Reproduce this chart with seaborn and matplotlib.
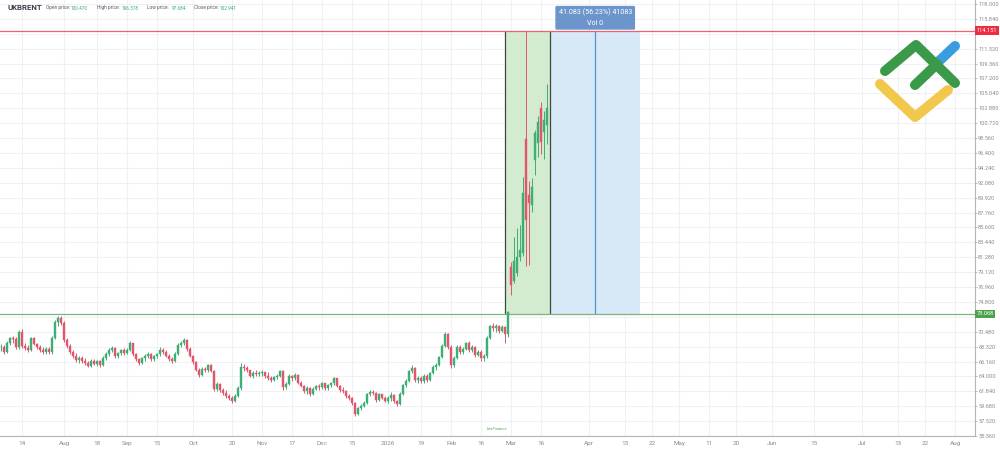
import numpy as np
import pandas as pd
import matplotlib
matplotlib.use("Agg")
import matplotlib.pyplot as plt
import matplotlib.transforms as mtransforms
from matplotlib.lines import Line2D
from matplotlib.patches import Rectangle
import seaborn as sns

# ---------------- data ----------------
symbol = "UKBRENT"
header_labels = ["Open price:", "High price:", "Low price:", "Close price:"]
header_values = ["100.470", "106.378", "97.684", "102.941"]

opens = [68.2, 68.3, 67.6, 68.9, 69.5, 69.4, 68.2, 70.4, 68.4, 68.1, 67.9, 69.5, 68.7, 68.3, 67.8, 67.6, 68.0, 67.5, 69.6, 71.9, 72.4,
         71.8, 69.3, 68.4, 67.6, 66.9, 66.4, 66.6, 66.2, 65.9, 65.5, 66.3, 65.8, 66.2, 65.6, 66.7, 67.3, 67.9, 68.1, 66.9, 67.4, 67.8,
         67.4, 67.9, 68.8, 67.2, 66.5, 66.0, 66.6, 66.9, 67.3, 66.5, 66.9, 67.2, 67.9, 67.6, 67.0, 66.5, 66.3, 67.3, 68.6, 68.8, 69.3, 68.0,
         67.0, 66.1, 65.0, 64.2, 65.1, 64.9, 65.6, 64.8, 62.2, 62.9, 62.0, 61.6, 61.1, 60.9, 60.5, 61.2, 62.3, 65.3, 65.2, 64.9, 64.1, 64.5, 64.3,
         64.5, 64.6, 64.0, 63.7, 63.5, 63.9, 64.1, 64.8, 62.4, 62.9, 64.0, 63.7, 64.2, 63.1, 62.6, 61.9, 62.3, 61.5, 62.2, 62.6,
         62.4, 63.0, 62.3, 62.7, 63.0, 63.7, 62.6, 62.0, 61.9, 61.1, 60.8, 60.1, 58.6, 59.4, 59.7, 60.2, 61.4, 61.8, 61.6, 60.6, 61.4, 60.9,
         60.5, 60.8, 61.3, 60.4, 60.0, 61.5, 62.7, 63.4, 64.8, 65.2, 63.5, 63.8, 63.3, 64.1, 63.5, 64.5, 65.4, 65.7, 66.8, 68.4, 70.1,
         68.3, 65.6, 66.7, 68.3, 67.5, 68.0, 68.8, 67.9, 68.3, 67.1, 67.6, 66.6, 66.9, 69.6, 71.3, 71.0, 71.3, 70.6, 71.1, 70.2,
         79.9, 77.9, 79.0, 81.3, 81.9, 98.4, 90.3, 88.8, 95.4, 97.8, 102.9, 99.4, 100.47]
highs = [68.7, 68.5, 69.2, 69.7, 69.8, 69.7, 70.8, 70.9, 68.8, 68.5, 69.7, 69.7, 68.9, 68.5, 68.2, 68.3, 68.2, 69.8, 72.2, 72.8, 72.7,
         72.0, 69.6, 68.7, 67.9, 67.4, 66.9, 66.9, 66.6, 66.2, 66.5, 66.5, 66.4, 66.4, 66.9, 67.5, 68.1, 68.4, 68.2, 67.6, 68.0, 68.1,
         68.1, 69.1, 68.9, 67.4, 66.7, 66.8, 67.2, 67.6, 67.4, 67.1, 67.4, 68.2, 68.1, 67.8, 67.2, 66.8, 67.5, 68.9, 69.1, 69.6, 69.4, 68.2,
         67.1, 66.3, 65.2, 65.3, 65.4, 65.8, 65.8, 65.0, 63.2, 63.1, 62.3, 62.0, 61.5, 61.2, 61.4, 62.6, 65.9, 65.8, 65.5, 65.0, 64.8, 64.9, 64.8,
         64.9, 64.7, 64.6, 64.0, 64.1, 64.3, 65.0, 64.9, 63.2, 64.3, 64.2, 64.5, 64.3, 63.3, 62.8, 62.6, 62.4, 62.4, 62.8, 62.9,
         63.2, 63.1, 62.9, 63.2, 63.9, 63.8, 62.8, 62.4, 62.0, 61.4, 61.0, 60.3, 59.6, 60.0, 60.4, 61.6, 62.0, 62.1, 61.7, 61.6, 61.5, 61.2,
         61.1, 61.7, 61.4, 60.6, 61.7, 62.9, 63.6, 65.0, 65.6, 65.3, 64.1, 64.0, 64.4, 64.3, 64.7, 65.6, 66.0, 67.0, 68.7, 70.5, 70.3,
         68.5, 67.0, 68.6, 68.5, 68.3, 69.0, 69.1, 68.6, 68.4, 67.8, 67.8, 67.2, 69.9, 71.5, 71.8, 71.6, 71.5, 71.4, 71.3, 73.5,
         80.6, 84.2, 85.5, 85.9, 92.9, 114.151, 92.3, 92.8, 99.7, 101.8, 103.8, 102.5, 106.378]
lows = [67.7, 67.3, 67.4, 68.5, 68.9, 68.0, 68.0, 68.1, 67.8, 67.5, 67.7, 68.5, 68.0, 67.5, 67.3, 67.2, 67.2, 67.3, 69.4, 71.3, 71.5,
        69.0, 68.1, 67.3, 66.6, 66.1, 65.9, 65.9, 65.6, 65.3, 65.4, 65.6, 65.5, 65.4, 65.5, 66.4, 67.0, 67.5, 66.7, 66.6, 67.1, 67.1,
        67.2, 67.7, 67.0, 66.3, 65.6, 65.8, 66.3, 66.6, 66.3, 66.2, 66.6, 67.0, 67.3, 66.8, 66.2, 66.0, 66.1, 67.1, 68.2, 68.5, 67.7, 66.8,
        65.8, 64.8, 63.9, 64.0, 64.6, 64.7, 64.6, 61.9, 61.9, 61.8, 61.3, 60.8, 60.6, 60.2, 60.3, 61.0, 62.1, 64.8, 64.6, 63.9, 63.8, 64.0, 64.0,
        64.1, 63.8, 63.5, 63.2, 63.3, 63.6, 63.9, 62.1, 62.2, 62.7, 63.4, 63.5, 62.9, 62.4, 61.6, 61.5, 61.1, 61.3, 62.0, 62.1,
        62.2, 62.0, 62.0, 62.4, 62.8, 62.4, 61.8, 61.6, 60.9, 60.6, 59.9, 58.3, 58.4, 59.1, 59.5, 60.0, 61.1, 61.3, 60.3, 60.4, 60.7, 60.3,
        60.2, 60.4, 60.2, 59.7, 59.9, 61.3, 62.5, 63.2, 64.5, 63.2, 63.1, 63.0, 63.1, 63.2, 63.3, 64.3, 64.9, 65.5, 66.6, 68.2, 68.0,
        65.2, 65.4, 66.5, 67.2, 67.2, 67.8, 67.6, 67.5, 66.8, 66.9, 66.3, 66.2, 66.7, 69.4, 70.6, 70.5, 70.3, 70.4, 68.9, 69.7,
        75.8, 77.5, 78.5, 80.8, 81.5, 80.0, 80.2, 87.9, 93.2, 95.8, 96.3, 95.5, 97.684]
closes = [68.3, 67.6, 68.9, 69.5, 69.4, 68.2, 70.4, 68.4, 68.1, 67.9, 69.5, 68.7, 68.3, 67.8, 67.6, 68.0, 67.5, 69.6, 71.9, 72.4, 71.8,
          69.3, 68.4, 67.6, 66.9, 66.4, 66.6, 66.2, 65.9, 65.5, 66.3, 65.8, 66.2, 65.6, 66.7, 67.3, 67.9, 68.1, 66.9, 67.4, 67.8, 67.4,
          67.9, 68.8, 67.2, 66.5, 66.0, 66.6, 66.9, 67.3, 66.5, 66.9, 67.2, 67.9, 67.6, 67.0, 66.5, 66.3, 67.3, 68.6, 68.8, 69.3, 68.0, 67.0,
          66.1, 65.0, 64.2, 65.1, 64.9, 65.6, 64.8, 62.2, 62.9, 62.0, 61.6, 61.1, 60.9, 60.5, 61.2, 62.3, 65.3, 65.2, 64.9, 64.1, 64.5, 64.3, 64.5,
          64.6, 64.0, 63.7, 63.5, 63.9, 64.1, 64.8, 62.4, 62.9, 64.0, 63.7, 64.2, 63.1, 62.6, 61.9, 62.3, 61.5, 62.2, 62.6, 62.4,
          63.0, 62.3, 62.7, 63.0, 63.7, 62.6, 62.0, 61.9, 61.1, 60.8, 60.1, 58.6, 59.4, 59.7, 60.2, 61.4, 61.8, 61.6, 60.6, 61.4, 60.9, 60.5,
          60.8, 61.3, 60.4, 60.0, 61.5, 62.7, 63.4, 64.8, 65.2, 63.5, 63.8, 63.3, 64.1, 63.5, 64.5, 65.4, 65.7, 66.8, 68.4, 70.1, 68.3,
          65.6, 66.7, 68.3, 67.5, 68.0, 68.8, 67.9, 68.3, 67.1, 67.6, 66.6, 66.9, 69.6, 71.3, 71.0, 71.3, 70.6, 71.1, 70.2, 73.3,
          77.3, 80.8, 81.3, 82.3, 90.6, 86.7, 89.1, 91.5, 99.3, 100.9, 98.0, 101.2, 102.941]

first_bar = "2025-07-03"
last_bar = "2026-03-18"
holidays = ["2025-12-25", "2026-01-01"]

tick_dates = ["2025-07-14", "2025-08-01", "2025-08-18", "2025-09-01", "2025-09-15", "2025-10-01",
              "2025-10-20", "2025-11-03", "2025-11-17", "2025-12-01", "2025-12-15", "2026-01-02",
              "2026-01-19", "2026-02-02", "2026-02-16", "2026-03-02", "2026-03-16", "2026-04-01",
              "2026-04-13", "2026-04-22", "2026-05-01", "2026-05-11", "2026-05-20", "2026-06-01",
              "2026-06-15", "2026-07-01", "2026-07-13", "2026-07-22", "2026-08-01"]
tick_labels = ["14", "Aug", "18", "Sep", "15", "Oct", "20", "Nov", "17", "Dec", "15", "2026",
               "19", "Feb", "16", "Mar", "16", "Apr", "13", "22", "May", "11", "20", "Jun",
               "15", "Jul", "13", "22", "Aug"]

ytick_values = [118.0, 115.84, 113.68, 111.52, 109.36, 107.2, 105.04, 102.88, 100.72, 98.56,
                96.4, 94.24, 92.08, 89.92, 87.76, 85.6, 83.44, 81.28, 79.12, 76.96, 74.8,
                72.64, 70.48, 68.32, 66.16, 64.0, 61.84, 59.68, 57.52, 55.36]
hidden_yticks = [113.68, 72.64]

range_high = 114.151
range_low = 73.068
range_start = "2026-02-26"
range_split = "2026-03-19"
range_cursor = "2026-04-03"
range_end = "2026-04-18"
range_text = "41.083 (56.23%) 41083\nVol 0"

# ---------------- helpers ----------------
bars = pd.bdate_range(first_bar, last_bar)
bars = bars[~bars.isin(pd.to_datetime(holidays))]


def xpos(d):
    d = pd.Timestamp(d)
    if d <= bars[-1]:
        return float(bars.get_indexer([d])[0])
    return float(len(bars) - 1 + (d - bars[-1]).days)


# ---------------- figure ----------------
sns.set_theme(style="white")
plt.rcParams["font.family"] = ["Roboto", "DejaVu Sans"]

W, H = 1000, 449
fig = plt.figure(figsize=(W / 100, H / 100), dpi=100)
ax = fig.add_axes([0, 13 / H, 975 / W, 1 - 13 / H])

UP = "#3fae74"
DOWN = "#e2566b"

x = np.arange(len(closes), dtype=float)
o = np.array(opens); c = np.array(closes); h = np.array(highs); l = np.array(lows)
cols = np.where(c >= o, UP, DOWN)

ax.vlines(x, l, h, colors=cols, linewidth=0.7, zorder=3)
ax.bar(x, np.maximum(np.abs(c - o), 0.12), bottom=np.minimum(o, c), width=0.66,
       color=cols, edgecolor=cols, linewidth=0.3, zorder=4)

# range tool
xs, xm, xc, xe = xpos(range_start), xpos(range_split), xpos(range_cursor), xpos(range_end)
ax.add_patch(Rectangle((xs, range_low), xm - xs, range_high - range_low,
                       facecolor="#d3ebd0", edgecolor="none", zorder=1))
ax.add_patch(Rectangle((xm, range_low), xe - xm, range_high - range_low,
                       facecolor="#d7e8f7", edgecolor="none", zorder=1))
ax.vlines([xs, xm], range_low, range_high, colors="#3c4a3f", linewidth=0.9, zorder=2)
ax.vlines([xc], range_low, range_high, colors="#4f93cc", linewidth=0.9, zorder=2)
ax.text(xc, 116.0, range_text, ha="center", va="center", color="white", fontsize=5.1,
        linespacing=1.55, zorder=6,
        bbox=dict(boxstyle="round,pad=0.45,rounding_size=0.2", fc="#6c96cb", ec="none"))

# horizontal lines
ax.axhline(range_high, color="#f0606f", linewidth=0.9, zorder=2)
ax.axhline(range_low, color="#7fb27f", linewidth=0.9, zorder=2)

# axes
ax.set_xlim(-0.4, 324.6)
ax.set_ylim(55.36, 118.58)
ax.set_xticks([xpos(d) for d in tick_dates])
ax.set_xticklabels(tick_labels)
ax.set_yticks(ytick_values)
ax.set_yticklabels(["" if v in hidden_yticks else f"{v:.3f}" for v in ytick_values])
ax.yaxis.tick_right()
ax.grid(True, color="#f0f1f5", linewidth=0.8, zorder=0)
ax.set_axisbelow(True)
for s in ["top", "left"]:
    ax.spines[s].set_visible(False)
for s in ["right", "bottom"]:
    ax.spines[s].set_color("#b5b5b5")
    ax.spines[s].set_linewidth(0.8)
ax.tick_params(axis="x", colors="#b5b5b5", labelcolor="#8c8c8c", labelsize=4.6,
               length=2.2, width=0.6, pad=1.6)
ax.tick_params(axis="y", colors="#b5b5b5", labelcolor="#8c8c8c", labelsize=4.1,
               length=1.5, width=0.6, pad=0.8)

# price labels on right axis
trans = mtransforms.blended_transform_factory(ax.transAxes, ax.transData)
ax.text(1.0015, range_high, f"{range_high:.3f}", transform=trans, ha="left", va="center",
        color="white", fontsize=4.1, zorder=7, clip_on=False,
        bbox=dict(boxstyle="square,pad=0.3", fc="#ec2d42", ec="none"))
ax.text(1.0015, range_low, f"{range_low:.3f}", transform=trans, ha="left", va="center",
        color="white", fontsize=4.1, zorder=7, clip_on=False,
        bbox=dict(boxstyle="square,pad=0.3", fc="#4ca24c", ec="none"))

# header
fig.text(8 / W, 1 - 8 / H, symbol, fontsize=5.6, fontweight="bold", color="#3a3f4a",
         va="center", ha="left")
lab_x = [46, 97, 147, 194]
val_x = [71, 122, 172, 220]
for lx, vx, lab, val in zip(lab_x, val_x, header_labels, header_values):
    fig.text(lx / W, 1 - 8 / H, lab, fontsize=3.4, color="#555a66", va="center", ha="left")
    fig.text(vx / W, 1 - 8 / H, val, fontsize=3.4, color="#3fae74", va="center", ha="left")

# logo (top right)
def fline(pts, color, lw=7.2):
    xs_ = [p[0] / W for p in pts]
    ys_ = [1 - p[1] / H for p in pts]
    fig.add_artist(Line2D(xs_, ys_, transform=fig.transFigure, color=color, linewidth=lw,
                          solid_capstyle="round", solid_joinstyle="round", zorder=10))

fline([(937, 63), (955, 46)], "#3a9de0")
fline([(885, 71), (916, 45), (955, 83)], "#3a9a49")
fline([(915, 85), (937, 64)], "#3a9a49")
fline([(880, 84), (915, 117), (948, 90)], "#f1c84b")

# small watermark
fig.text(497 / W, 1 - 429 / H, "LiteFinance", fontsize=3, color="#5aa55a", ha="center",
         va="center", style="italic")

fig.savefig("out.png", dpi=100)
